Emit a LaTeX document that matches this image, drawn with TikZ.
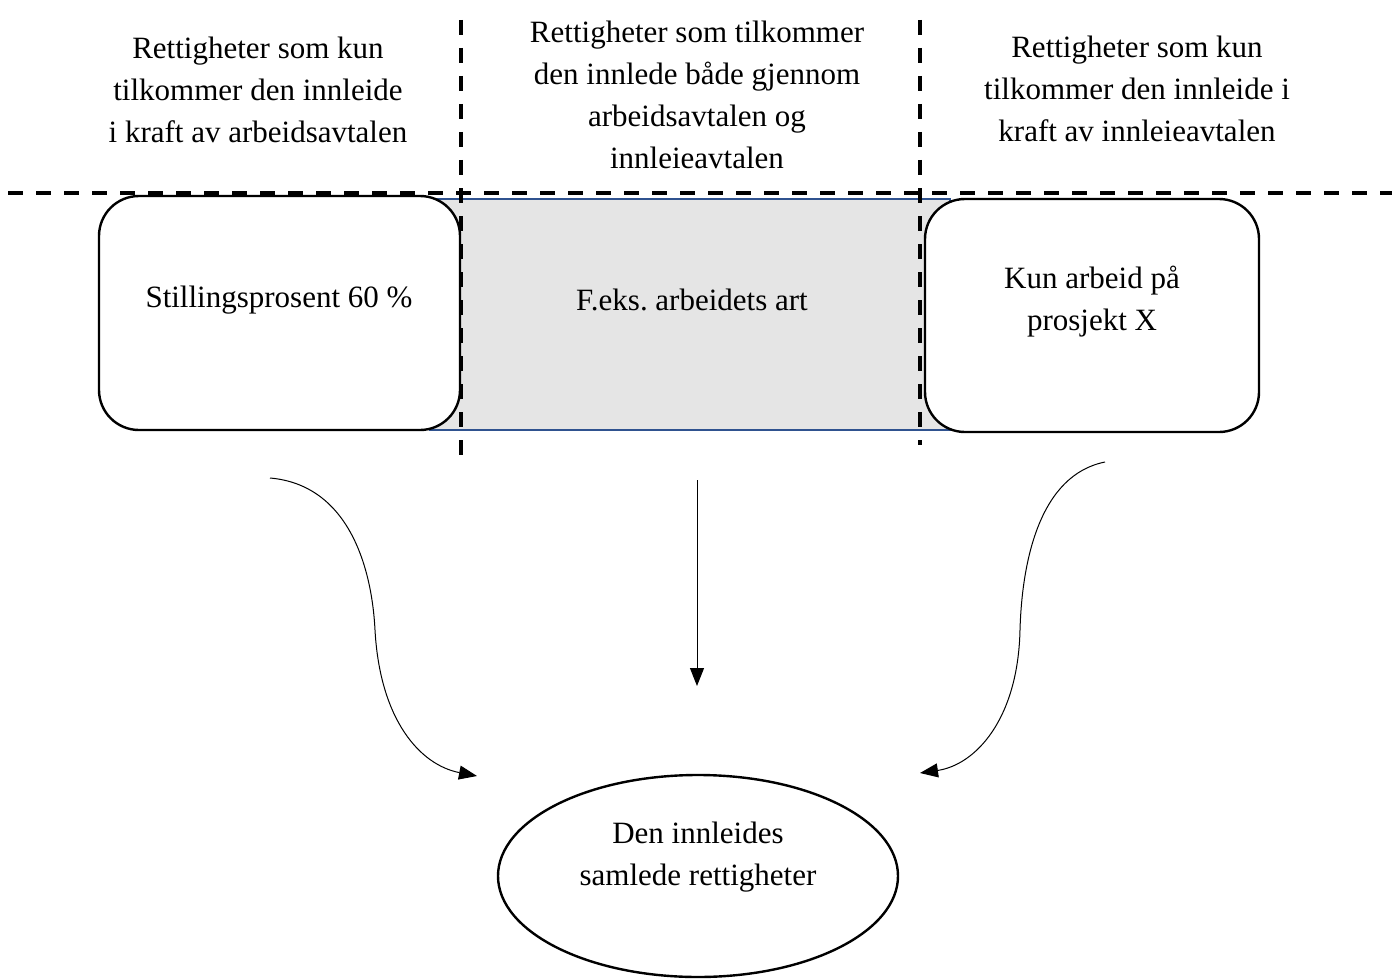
\documentclass[tikz,border=0pt]{standalone}
\usepackage{fontspec}
\setmainfont{Liberation Serif}
\usetikzlibrary{arrows.meta,shapes.geometric}
\begin{document}
\frenchspacing
\begin{tikzpicture}[x=1pt,y=-1pt,
  lbl/.style={font=\fontsize{31}{42}\selectfont, align=center, inner sep=0pt},
  rbox/.style={draw=black, line width=2.4pt, rounded corners=40pt, fill=white},
  dline/.style={draw=black, line width=3.6pt, dash pattern=on 15pt off 13pt},
  conn/.style={draw=black, line width=1pt, -{Triangle[length=18pt,width=14pt]}}]
\useasboundingbox (0,0) rectangle (1392,979);
% grey middle band
\draw[fill=black!10, draw={rgb,255:red,47;green,82;blue,143}, line width=1.5pt] (430,199) rectangle (950,430);
% boxes
\draw[rbox] (99,196) rectangle (460,430);
\draw[rbox] (925,199) rectangle (1259,432);
% dashed lines
\draw[dline] (8,193) -- (1392,193);
\draw[dline] (461,20) -- (461,462);
\draw[dline] (920,20) -- (920,445);
% header texts
\node[lbl] (h1) at (258,90) {Rettigheter som kun\\tilkommer den innleide\\i kraft av arbeidsavtalen};
\node[lbl] (h2) at (697,95) {Rettigheter som tilkommer\\den innlede både gjennom\\arbeidsavtalen og\\innleieavtalen};
\node[lbl] (h3) at (1137,89) {Rettigheter som kun\\tilkommer den innleide i\\kraft av innleieavtalen};
% box texts
\node[lbl] (b1) at (279,300) {Stillingsprosent 60 \%};
\node[lbl] (b2) at (692,300) {F.eks. arbeidets art};
\node[lbl] (b3) at (1092,302) {Kun arbeid på\\prosjekt X};
% ellipse
\node[draw=black, line width=2.4pt, ellipse, minimum width=400pt, minimum height=202pt, inner sep=0pt] (e) at (698,876) {};
\node[lbl] (et) at (698,857) {Den innleides\\samlede rettigheter};
% connectors
\coordinate (s1) at (270,478);
\coordinate (t1) at (477,776);
\coordinate (s2) at (697,480);
\coordinate (t2) at (697,686);
\coordinate (s3) at (1105,462);
\coordinate (t3) at (920,773);
\draw[conn] (s1) .. controls (350,485) and (372,570) .. (375,630) .. controls (380,720) and (420,765) .. (t1);
\draw[conn] (s2) -- (t2);
\draw[conn] (s3) .. controls (1040,475) and (1022,560) .. (1020,630) .. controls (1018,720) and (975,765) .. (t3);
\end{tikzpicture}
\end{document}
